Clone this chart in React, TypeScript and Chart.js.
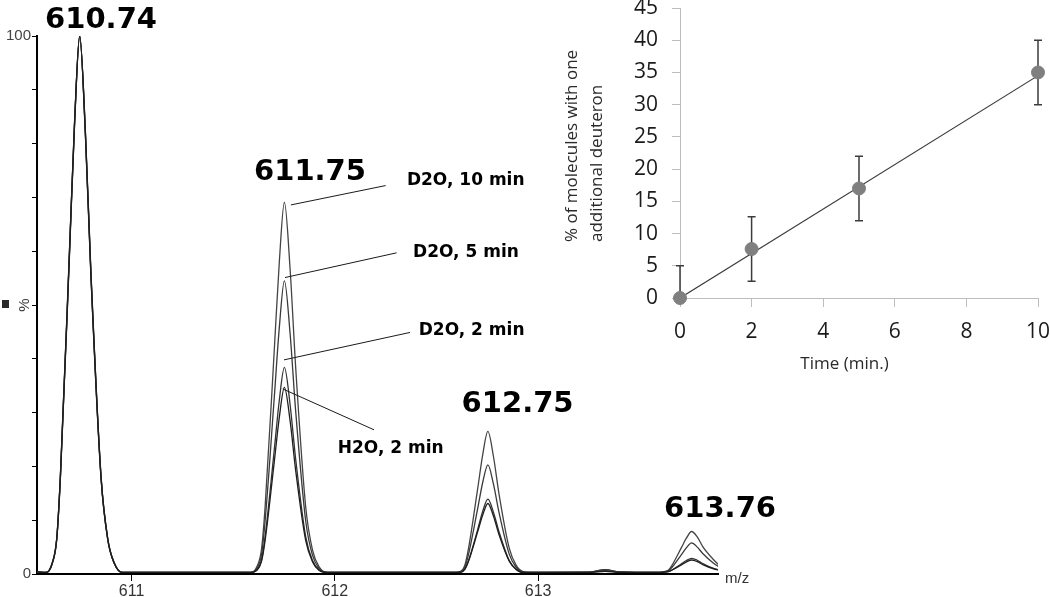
import { useEffect, useRef } from "react";
import { Chart, registerables } from "chart.js";

Chart.register(...registerables);

// ---------- Mass spectrum data (m/z sampling points shared by all traces) ----------
const mzPoints = [
  610.535,
  610.58, 610.61, 610.632, 610.65, 610.695, 610.72, 610.745, 610.773, 610.8, 610.85, 610.883, 610.915, 610.955,
  611.25,
  611.587, 611.617, 611.639, 611.657, 611.702, 611.727, 611.752, 611.78, 611.807, 611.857, 611.89, 611.922, 611.962,
  612.25,
  612.588, 612.618, 612.64, 612.658, 612.703, 612.728, 612.753, 612.781, 612.808, 612.858, 612.891, 612.923, 612.963,
  613.25, 613.33, 613.4,
  613.59, 613.62, 613.642, 613.66, 613.705, 613.73, 613.755, 613.783, 613.81, 613.86, 613.893, 613.925,
];

const seriesLabels = ["H2O, 2 min", "D2O, 2 min", "D2O, 5 min", "D2O, 10 min"];

const h2o2min = [
  0.4,
  0.3, 2, 6.5, 18, 60, 84, 100, 82, 56, 18, 6.5, 2, 0.3,
  0.3,
  0.3, 0.7, 2.3, 6.2, 20.8, 29.1, 34.7, 28.5, 19.4, 6.2, 2.3, 0.7, 0.3,
  0.3,
  0.3, 0.3, 0.9, 2.4, 7.9, 11.0, 13.1, 10.7, 7.3, 2.4, 0.9, 0.3, 0.3,
  0.3, 0.5, 0.3,
  0.3, 0.35, 0.45, 0.75, 1.7, 2.25, 2.6, 2.3, 1.75, 1.0, 0.7, 0.5,
];
const d2o2min = [
  0.4,
  0.3, 2.1, 6.6, 18.3, 60.5, 84.3, 100, 81.6, 55.5, 17.8, 6.4, 2, 0.3,
  0.3,
  0.3, 0.8, 2.5, 6.9, 23.0, 32.3, 38.4, 31.5, 21.5, 6.9, 2.5, 0.8, 0.3,
  0.3,
  0.3, 0.3, 0.9, 2.5, 8.3, 11.7, 13.9, 11.4, 7.8, 2.5, 0.9, 0.3, 0.3,
  0.3, 0.6, 0.35,
  0.3, 0.35, 0.5, 0.8, 1.9, 2.5, 2.9, 2.55, 1.95, 1.1, 0.75, 0.5,
];
const d2o5min = [
  0.4,
  0.3, 1.9, 6.4, 17.7, 59.5, 83.7, 100, 82.4, 56.5, 18.2, 6.6, 2.1, 0.3,
  0.3,
  0.3, 1.1, 3.5, 9.8, 32.7, 45.8, 54.5, 44.7, 30.5, 9.8, 3.5, 1.1, 0.3,
  0.3,
  0.3, 0.4, 1.3, 3.7, 12.2, 17.1, 20.3, 16.6, 11.4, 3.7, 1.3, 0.4, 0.3,
  0.35, 0.8, 0.4,
  0.3, 0.4, 0.65, 1.3, 3.6, 4.9, 5.8, 5.0, 3.8, 2.1, 1.25, 0.7,
];
const d2o10min = [
  0.4,
  0.3, 2, 6.5, 18, 60, 84, 100, 82, 56, 18, 6.5, 2, 0.3,
  0.3,
  0.3, 1.4, 4.5, 12.4, 41.5, 58.0, 69.1, 56.7, 38.7, 12.4, 4.5, 1.4, 0.3,
  0.3,
  0.3, 0.5, 1.7, 4.8, 15.9, 22.3, 26.5, 21.7, 14.8, 4.8, 1.7, 0.5, 0.3,
  0.35, 0.8, 0.4,
  0.3, 0.45, 0.75, 1.7, 4.9, 6.7, 7.9, 6.9, 5.1, 2.8, 1.6, 0.9,
];

const mzTicks = [611, 612, 613];
const intensityLabelled = [0, 100];
const peakLabels = ["610.74", "611.75", "612.75", "613.76"];

// ---------- Inset data ----------
const timesMin = [0, 2, 5, 10];
const deuteronPct = [0, 7.6, 17, 35];
const deuteronErr = [5, 5, 5, 5];
const timeTicks = [0, 2, 4, 6, 8, 10];
const pctTicks = [0, 5, 10, 15, 20, 25, 30, 35, 40, 45];
const fitTimes = [0, 10];
const fitPct = [0, 34.5];

// ---------- Styling / annotation placement (data coordinates) ----------
const lineColors = ["#1e1e1e", "#333333", "#3a3a3a", "#444444"];
const peakLabelAnchors = [
  [610.85, 101.5],
  [611.878, 73.2],
  [612.899, 30.2],
  [613.895, 10.65],
];
const seriesLabelAnchors = [
  [612.275, 22.4],
  [612.673, 44.4],
  [612.645, 59.0],
  [612.644, 72.3],
];
const leaderLines = [
  [[611.744, 34.4], [612.193, 26.8]],
  [[611.75, 39.8], [612.37, 44.9]],
  [[611.755, 55.1], [612.304, 59.7]],
  [[611.784, 68.6], [612.25, 72.2]],
];

const mainDecor = {
  id: "mainDecor",
  afterDraw(chart: any) {
    const { ctx, chartArea } = chart;
    const x = chart.scales.x;
    const y = chart.scales.y;
    ctx.save();
    // leader lines
    ctx.strokeStyle = "#1a1a1a";
    ctx.lineWidth = 1;
    leaderLines.forEach((seg) => {
      ctx.beginPath();
      ctx.moveTo(x.getPixelForValue(seg[0][0]), y.getPixelForValue(seg[0][1]));
      ctx.lineTo(x.getPixelForValue(seg[1][0]), y.getPixelForValue(seg[1][1]));
      ctx.stroke();
    });
    // series labels
    ctx.fillStyle = "#000";
    ctx.textAlign = "center";
    ctx.textBaseline = "alphabetic";
    ctx.font = 'bold 17px "DejaVu Sans"';
    seriesLabels.forEach((t, i) => {
      ctx.fillText(t, x.getPixelForValue(seriesLabelAnchors[i][0]), y.getPixelForValue(seriesLabelAnchors[i][1]));
    });
    // peak labels
    ctx.font = 'bold 29px "DejaVu Sans"';
    peakLabels.forEach((t, i) => {
      ctx.fillText(t, x.getPixelForValue(peakLabelAnchors[i][0]), y.getPixelForValue(peakLabelAnchors[i][1]));
    });
    // "%" axis label (rotated) and marker
    ctx.fillStyle = "#333";
    ctx.font = '15px "Liberation Sans"';
    const midY = y.getPixelForValue(50);
    ctx.save();
    ctx.translate(25, midY);
    ctx.rotate(-Math.PI / 2);
    ctx.textAlign = "center";
    ctx.textBaseline = "middle";
    ctx.fillText("%", 0, 0);
    ctx.restore();
    ctx.fillStyle = "#2a2a2a";
    ctx.fillRect(2, midY - 5, 7, 8);
    // m/z label
    ctx.fillStyle = "#333";
    ctx.textAlign = "left";
    ctx.textBaseline = "alphabetic";
    ctx.font = '15px "Liberation Sans"';
    ctx.fillText("m/z", chartArea.right + 7, chartArea.bottom + 9);
    ctx.restore();
  },
};

const insetDecor = {
  id: "insetDecor",
  beforeDatasetsDraw(chart: any) {
    const { ctx, chartArea } = chart;
    const x = chart.scales.x;
    const y = chart.scales.y;
    ctx.save();
    ctx.beginPath();
    ctx.rect(chartArea.left - 20, chartArea.top - 2, chartArea.right - chartArea.left + 40, chartArea.bottom - chartArea.top + 2);
    ctx.clip();
    ctx.strokeStyle = "#3c3c3c";
    ctx.lineWidth = 1.5;
    timesMin.forEach((t, i) => {
      const px = x.getPixelForValue(t);
      const top = y.getPixelForValue(deuteronPct[i] + deuteronErr[i]);
      const bot = y.getPixelForValue(deuteronPct[i] - deuteronErr[i]);
      ctx.beginPath();
      ctx.moveTo(px, top);
      ctx.lineTo(px, bot);
      ctx.moveTo(px - 4, top);
      ctx.lineTo(px + 4, top);
      ctx.moveTo(px - 4, bot);
      ctx.lineTo(px + 4, bot);
      ctx.stroke();
    });
    ctx.restore();
  },
  afterDraw(chart: any) {
    const { ctx, chartArea } = chart;
    ctx.save();
    ctx.fillStyle = "#2a2a2a";
    ctx.font = '17px "Open Sans"';
    ctx.textBaseline = "alphabetic";
    // y-axis title, two rotated lines
    const lines = ["% of molecules with one", "additional deuteron"];
    lines.forEach((t, i) => {
      ctx.save();
      ctx.translate(chartArea.left - 103 + i * 25, chartArea.bottom - 56);
      ctx.rotate(-Math.PI / 2);
      ctx.textAlign = "left";
      ctx.fillText(t, 0, 0);
      ctx.restore();
    });
    // x-axis title
    ctx.textAlign = "center";
    ctx.fillText("Time (min.)", chartArea.left + 164.5, chartArea.bottom + 71);
    ctx.restore();
  },
};

function zeroPad(s: any) {
  s.paddingTop = 0;
  s.paddingBottom = 0;
  s.paddingLeft = 0;
  s.paddingRight = 0;
}

export default function App() {
  const mainRef = useRef<HTMLCanvasElement>(null);
  const insetRef = useRef<HTMLCanvasElement>(null);

  useEffect(() => {
    const series = [h2o2min, d2o2min, d2o5min, d2o10min];
    const main = new Chart(mainRef.current as HTMLCanvasElement, {
      type: "line",
      data: {
        datasets: series.map((vals, i) => ({
          label: seriesLabels[i],
          data: mzPoints.map((mz, j) => ({ x: mz, y: vals[j] })),
          borderColor: lineColors[i],
          borderWidth: 1.3,
          pointRadius: 0,
          fill: false,
          cubicInterpolationMode: "monotone" as const,
        })),
      },
      options: {
        animation: false,
        responsive: false,
        maintainAspectRatio: false,
        layout: { padding: { top: 36, right: 82, left: 0, bottom: 0 } },
        plugins: { legend: { display: false }, tooltip: { enabled: false } },
        scales: {
          x: {
            type: "linear",
            min: 610.535,
            max: 613.885,
            afterBuildTicks: (s: any) => {
              s.ticks = mzTicks.map((v) => ({ value: v }));
            },
            afterFit: (s: any) => {
              s.height = 23;
              zeroPad(s);
            },
            grid: { drawOnChartArea: false, drawTicks: true, tickLength: 7, color: "#000", lineWidth: 1 },
            border: { display: true, color: "#000", width: 2 },
            ticks: {
              color: "#333",
              font: { family: "Liberation Sans", size: 16 },
              padding: 1,
              maxRotation: 0,
              autoSkip: false,
              callback: (v: any) => String(v),
            },
          },
          y: {
            type: "linear",
            min: 0,
            max: 100,
            afterFit: (s: any) => {
              s.width = 37;
              zeroPad(s);
            },
            grid: { drawOnChartArea: false, drawTicks: true, tickLength: 5, color: "#000", lineWidth: 1 },
            border: { display: true, color: "#000", width: 2 },
            ticks: {
              stepSize: 10,
              color: "#444",
              font: { family: "Liberation Sans", size: 15 },
              padding: 1,
              autoSkip: false,
              callback: (v: any) => (intensityLabelled.includes(v) ? String(v) : ""),
            },
          },
        },
      },
      plugins: [mainDecor],
    } as any);

    const inset = new Chart(insetRef.current as HTMLCanvasElement, {
      type: "scatter",
      data: {
        datasets: [
          {
            type: "line",
            label: "Linear fit",
            data: fitTimes.map((t, i) => ({ x: t, y: fitPct[i] })),
            borderColor: "#3c3c3c",
            borderWidth: 1.2,
            pointRadius: 0,
            fill: false,
            order: 2,
          },
          {
            label: "% of molecules with one additional deuteron",
            data: timesMin.map((t, i) => ({ x: t, y: deuteronPct[i] })),
            backgroundColor: "#7f7f7f",
            borderColor: "#7f7f7f",
            pointRadius: 6.5,
            order: 1,
            clip: false,
          },
        ],
      },
      options: {
        animation: false,
        responsive: false,
        maintainAspectRatio: false,
        layout: { padding: { top: 8, right: 12, left: 0, bottom: 0 } },
        plugins: { legend: { display: false }, tooltip: { enabled: false } },
        scales: {
          x: {
            type: "linear",
            min: 0,
            max: 10,
            afterBuildTicks: (s: any) => {
              s.ticks = timeTicks.map((v) => ({ value: v }));
            },
            afterFit: (s: any) => {
              s.height = 82;
              zeroPad(s);
            },
            grid: { drawOnChartArea: false, drawTicks: true, tickLength: 9, color: "#bdbdbd", lineWidth: 1 },
            border: { display: true, color: "#bdbdbd", width: 1 },
            ticks: {
              color: "#1a1a1a",
              font: { family: "Open Sans", size: 21 },
              padding: 12,
              maxRotation: 0,
              autoSkip: false,
            },
          },
          y: {
            type: "linear",
            min: 0,
            max: 45,
            afterBuildTicks: (s: any) => {
              s.ticks = pctTicks.map((v) => ({ value: v }));
            },
            afterFit: (s: any) => {
              s.width = 140;
              zeroPad(s);
            },
            grid: { drawOnChartArea: false, drawTicks: true, tickLength: 8, color: "#bdbdbd", lineWidth: 1 },
            border: { display: true, color: "#bdbdbd", width: 1 },
            ticks: {
              color: "#1a1a1a",
              font: { family: "Open Sans", size: 21 },
              padding: 14,
              autoSkip: false,
            },
          },
        },
      },
      plugins: [insetDecor],
    } as any);

    return () => {
      main.destroy();
      inset.destroy();
    };
  }, []);

  return (
    <div
      style={{
        position: "fixed",
        left: 0,
        top: 0,
        width: 1050,
        height: 597,
        background: "#fff",
        overflow: "hidden",
      }}
    >
      <canvas
        ref={mainRef}
        width={800}
        height={597}
        style={{ position: "absolute", left: 0, top: 0, width: 800, height: 597 }}
      />
      <canvas
        ref={insetRef}
        width={510}
        height={380}
        style={{ position: "absolute", left: 540, top: 0, width: 510, height: 380 }}
      />
    </div>
  );
}
